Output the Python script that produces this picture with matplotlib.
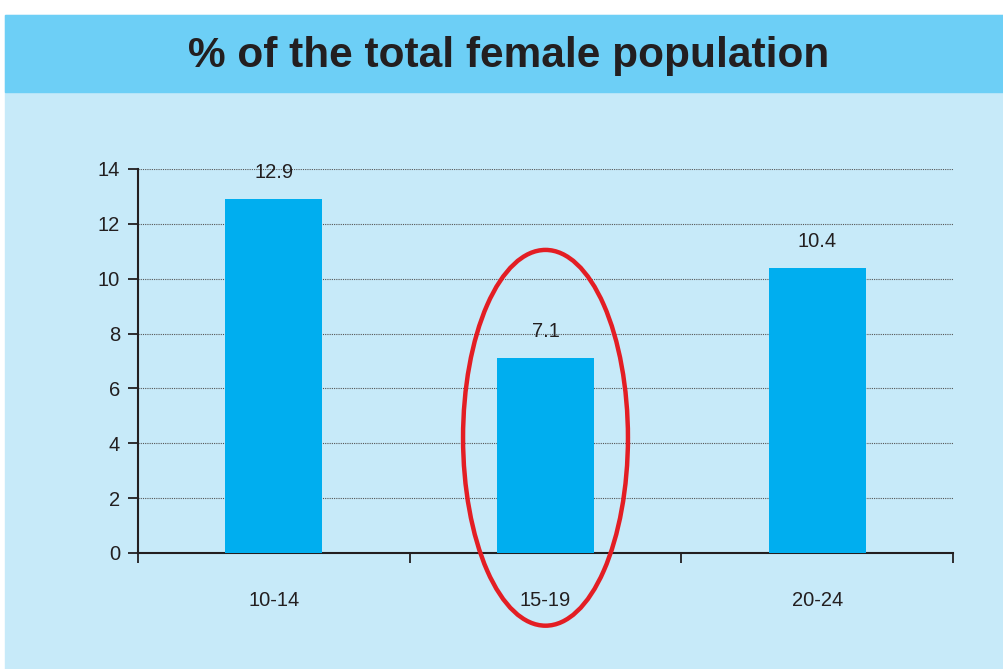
import matplotlib
matplotlib.use("Agg")
import matplotlib.pyplot as plt
from matplotlib.patches import Rectangle, Ellipse

age_groups = ["10-14", "15-19", "20-24"]
share = [12.9, 7.1, 10.4]
highlight = "15-19"

plt.rcParams['font.family'] = ['Liberation Sans', 'DejaVu Sans']

fig = plt.figure(figsize=(10.04, 6.69), dpi=100)
fig.patch.set_facecolor("white")

# panel background and title band
W, H = 1004, 669
fig.patches.append(Rectangle((5 / W, 0), 1 - 5 / W, (H - 15) / H,
                             transform=fig.transFigure, color="#C7EAF9", zorder=0))
fig.patches.append(Rectangle((5 / W, (H - 92) / H), 1 - 5 / W, 77 / H,
                             transform=fig.transFigure, color="#6DCFF6", zorder=0))
fig.text(0.507, (H - 56) / H, "% of the total female population", ha="center", va="center",
         fontsize=30.5, fontweight="bold", color="#231F20")

ax = fig.add_axes([138 / W, (H - 553) / H, (953 - 138) / W, (553 - 169) / H])
ax.set_facecolor("none")
ax.set_zorder(2)

x = range(len(age_groups))
bars = ax.bar(x, share, width=0.357, color="#00AEEF", zorder=3)
for xi, v in zip(x, share):
    ax.annotate(f"{v}", (xi, v), xytext=(0, 19), textcoords="offset points",
                ha="center", va="center", fontsize=14.5, color="#231F20")

ax.set_xlim(-0.5, 2.5)
ax.set_ylim(0, 14)
ax.set_yticks(range(0, 15, 2))
ax.grid(axis="y", color="#555555", linestyle=(0, (1, 1)), linewidth=0.8, zorder=1)

ax.set_xticks(list(x))
ax.set_xticklabels(age_groups)
ax.set_xticks([-0.5, 0.5, 1.5, 2.5], minor=True)
ax.tick_params(axis="x", which="major", length=0, pad=27, labelsize=14.5, labelcolor="#231F20")
ax.tick_params(axis="x", which="minor", length=7, width=1.3, direction="out", color="#231F20")
ax.tick_params(axis="y", length=7, width=1.3, direction="out", color="#231F20",
               labelsize=14.5, labelcolor="#231F20", pad=6)

for side in ["top", "right"]:
    ax.spines[side].set_visible(False)
for side in ["left", "bottom"]:
    ax.spines[side].set_color("#231F20")
    ax.spines[side].set_linewidth(1.5)

# red ring around the 15-19 group
hi = age_groups.index(highlight)
ax.add_patch(Ellipse((hi, 4.2), 0.607, 13.7, fill=False, edgecolor="#E31E24",
                     linewidth=3.2, clip_on=False, zorder=4))

fig.savefig("out.png", dpi=100)
